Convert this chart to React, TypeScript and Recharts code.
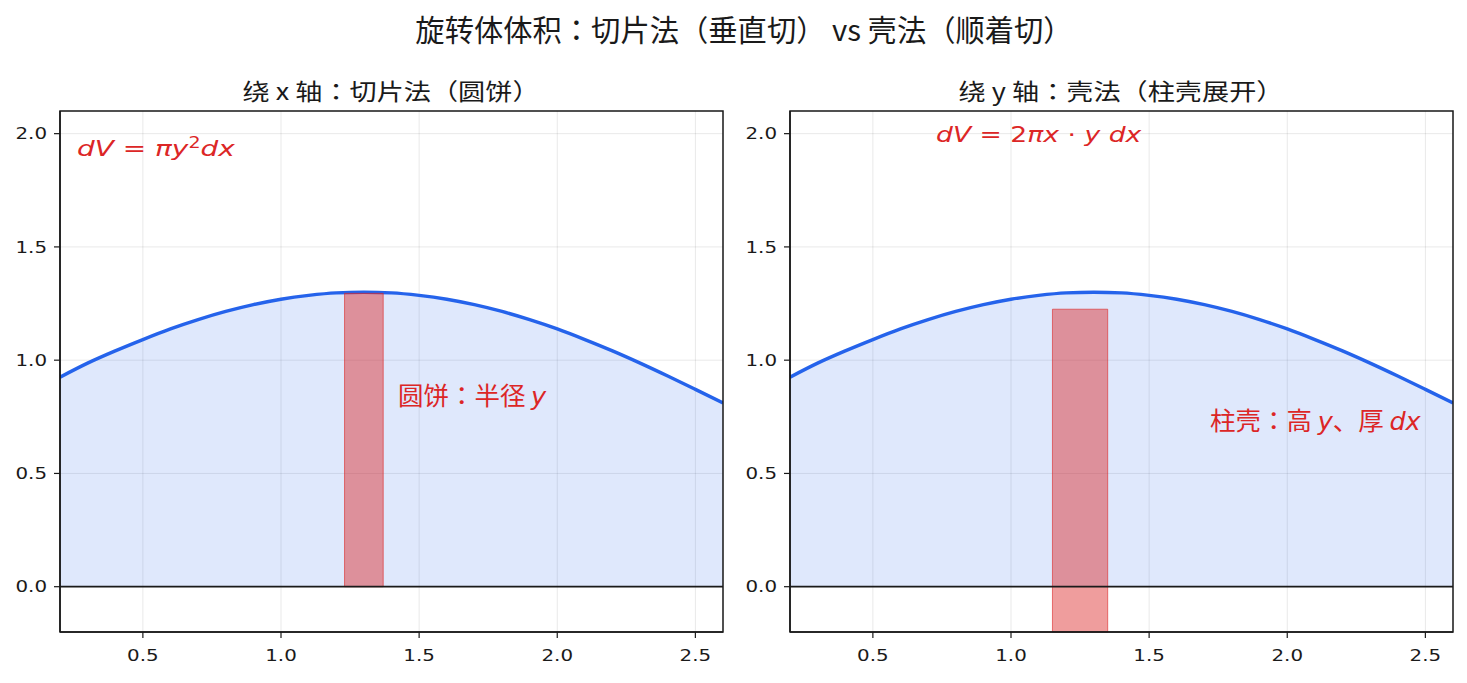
import React from 'react';
import { ComposedChart, Area, XAxis, YAxis, CartesianGrid, ReferenceArea, ReferenceLine } from 'recharts';

// curve y = f(x)
const xValues = [0.2, 0.3, 0.4, 0.5, 0.6, 0.7, 0.8, 0.9, 1.0, 1.1, 1.2, 1.3, 1.4, 1.5, 1.6, 1.7, 1.8, 1.9, 2.0, 2.1, 2.2, 2.3, 2.4, 2.5, 2.6];
const yValues = [0.925, 0.987, 1.041, 1.091, 1.138, 1.179, 1.215, 1.245, 1.269, 1.286, 1.297, 1.300, 1.297, 1.286, 1.269, 1.245, 1.215, 1.179, 1.138, 1.091, 1.041, 0.987, 0.930, 0.871, 0.811];

const xTicks = [0.5, 1.0, 1.5, 2.0, 2.5];
const yTicks = [0.0, 0.5, 1.0, 1.5, 2.0];
const xDomain = [0.2, 2.6];
const yDomain = [-0.2, 2.1];

// slice rectangles: [x1, x2, y1, y2]
const diskSlice = [1.23, 1.37, 0, 1.295];
const shellSlice = [1.15, 1.35, -0.2, 1.225];

const curveData = xValues.map((x, i) => ({ x, y: yValues[i] }));

const RED = '#dc2626';
const BLUE = '#2563eb';
const INK = '#1a1a1a';
const TICK_FONT = '"DejaVu Sans", sans-serif';
const CJK = '"Noto Sans CJK JP", "Noto Sans CJK SC", sans-serif';
const MATH = '"DejaVu Sans", sans-serif';
const STRETCH = 1.24;

function XTick(props: any) {
  const { x, y, payload } = props;
  return (
    <g transform={`translate(${x},${y}) scale(${STRETCH},1)`}>
      <text x={0} y={0} dy="0.71em" textAnchor="middle" fill={INK} fontSize={16} fontFamily={TICK_FONT}>
        {Number(payload.value).toFixed(1)}
      </text>
    </g>
  );
}

function YTick(props: any) {
  const { x, y, payload } = props;
  return (
    <g transform={`translate(${x},${y}) scale(${STRETCH},1)`}>
      <text x={0} y={0} dy="0.36em" textAnchor="end" fill={INK} fontSize={16} fontFamily={TICK_FONT}>
        {Number(payload.value).toFixed(1)}
      </text>
    </g>
  );
}

type PanelProps = { left: number; width: number; marginLeft: number; marginRight: number; slice: number[] };

function Panel({ left, width, marginLeft, marginRight, slice }: PanelProps) {
  return (
    <div style={{ position: 'absolute', left, top: 0 }}>
      <ComposedChart
        width={width}
        height={683}
        data={curveData}
        margin={{ top: 111, right: marginRight, bottom: 11, left: marginLeft }}
      >
        <CartesianGrid stroke="#000" strokeOpacity={0.09} strokeWidth={1} />
        <XAxis
          dataKey="x"
          type="number"
          domain={xDomain}
          ticks={xTicks}
          allowDataOverflow
          height={40}
          tick={<XTick />}
          tickLine={{ stroke: INK, strokeWidth: 1.2 }}
          axisLine={{ stroke: INK, strokeWidth: 1.5 }}
          tickSize={6}
          tickMargin={12}
        />
        <YAxis
          type="number"
          domain={yDomain}
          ticks={yTicks}
          allowDataOverflow
          width={50}
          tick={<YTick />}
          tickLine={{ stroke: INK, strokeWidth: 1.2 }}
          axisLine={{ stroke: INK, strokeWidth: 1.5 }}
          tickSize={6}
          tickMargin={7}
        />
        <Area
          dataKey="y"
          type="monotone"
          baseValue={0}
          stroke={BLUE}
          strokeWidth={3.4}
          fill={BLUE}
          fillOpacity={0.15}
          isAnimationActive={false}
          dot={false}
          activeDot={false}
        />
        <ReferenceArea
          x1={slice[0]}
          x2={slice[1]}
          y1={slice[2]}
          y2={slice[3]}
          fill={RED}
          fillOpacity={0.45}
          stroke={RED}
          strokeOpacity={0.6}
          strokeWidth={1}
          ifOverflow="visible"
        />
        <ReferenceLine y={0} stroke={INK} strokeWidth={1.8} />
        <ReferenceArea
          x1={xDomain[0]}
          x2={xDomain[1]}
          y1={yDomain[0]}
          y2={yDomain[1]}
          fill="none"
          stroke={INK}
          strokeWidth={1.5}
          ifOverflow="visible"
        />
      </ComposedChart>
    </div>
  );
}

const abs = (s: React.CSSProperties): React.CSSProperties => ({
  position: 'absolute',
  whiteSpace: 'nowrap',
  lineHeight: 1,
  ...({ textSpacingTrim: 'space-all' } as any),
  ...s,
});

const mi: React.CSSProperties = { fontFamily: MATH, fontStyle: 'italic' };

export default function App() {
  return (
    <div style={{ position: 'absolute', left: 0, top: 0, width: 1467, height: 683, background: '#fff', overflow: 'hidden' }}>
      <Panel left={0} width={740} marginLeft={10} marginRight={17} slice={diskSlice} />
      <Panel left={740} width={727} marginLeft={0} marginRight={14} slice={shellSlice} />

      <div style={abs({ left: 744, top: 29, transform: 'translate(-50%,-50%)', fontSize: 29.3, fontFamily: CJK, color: INK })}>
        旋转体体积：切片法（垂直切） vs 壳法（顺着切）
      </div>
      <div style={abs({ left: 391, top: 90, transform: 'translate(-50%,-50%) scaleX(1.18)', fontSize: 23, fontFamily: CJK, color: INK })}>
        绕 x 轴：切片法（圆饼）
      </div>
      <div style={abs({ left: 1121, top: 90, transform: 'translate(-50%,-50%) scaleX(1.18)', fontSize: 23, fontFamily: CJK, color: INK })}>
        绕 y 轴：壳法（柱壳展开）
      </div>

      <div style={abs({ left: 77, top: 136, fontSize: 22, fontFamily: MATH, color: RED, transform: 'scaleX(1.27)', transformOrigin: 'left center' })}>
        <span style={mi}>dV</span>
        <span> = </span>
        <span style={mi}>πy</span>
        <span style={{ fontSize: 15, verticalAlign: '0.5em' }}>2</span>
        <span style={mi}>dx</span>
      </div>
      <div style={abs({ left: 936, top: 124, fontSize: 22, fontFamily: MATH, color: RED, transform: 'scaleX(1.21)', transformOrigin: 'left center' })}>
        <span style={mi}>dV</span>
        <span> = 2</span>
        <span style={mi}>πx</span>
        <span> · </span>
        <span style={mi}>y</span>
        <span> </span>
        <span style={mi}>dx</span>
      </div>

      <div style={abs({ left: 398, top: 396, transform: 'translateY(-50%) scaleX(1.04)', transformOrigin: 'left center', fontSize: 24.5, fontFamily: CJK, color: RED })}>
        圆饼：半径 <span style={mi}>y</span>
      </div>
      <div style={abs({ left: 1210, top: 421, transform: 'translateY(-50%) scaleX(1.04)', transformOrigin: 'left center', fontSize: 24.5, fontFamily: CJK, color: RED })}>
        柱壳：高 <span style={mi}>y</span>、厚 <span style={mi}>dx</span>
      </div>
    </div>
  );
}
